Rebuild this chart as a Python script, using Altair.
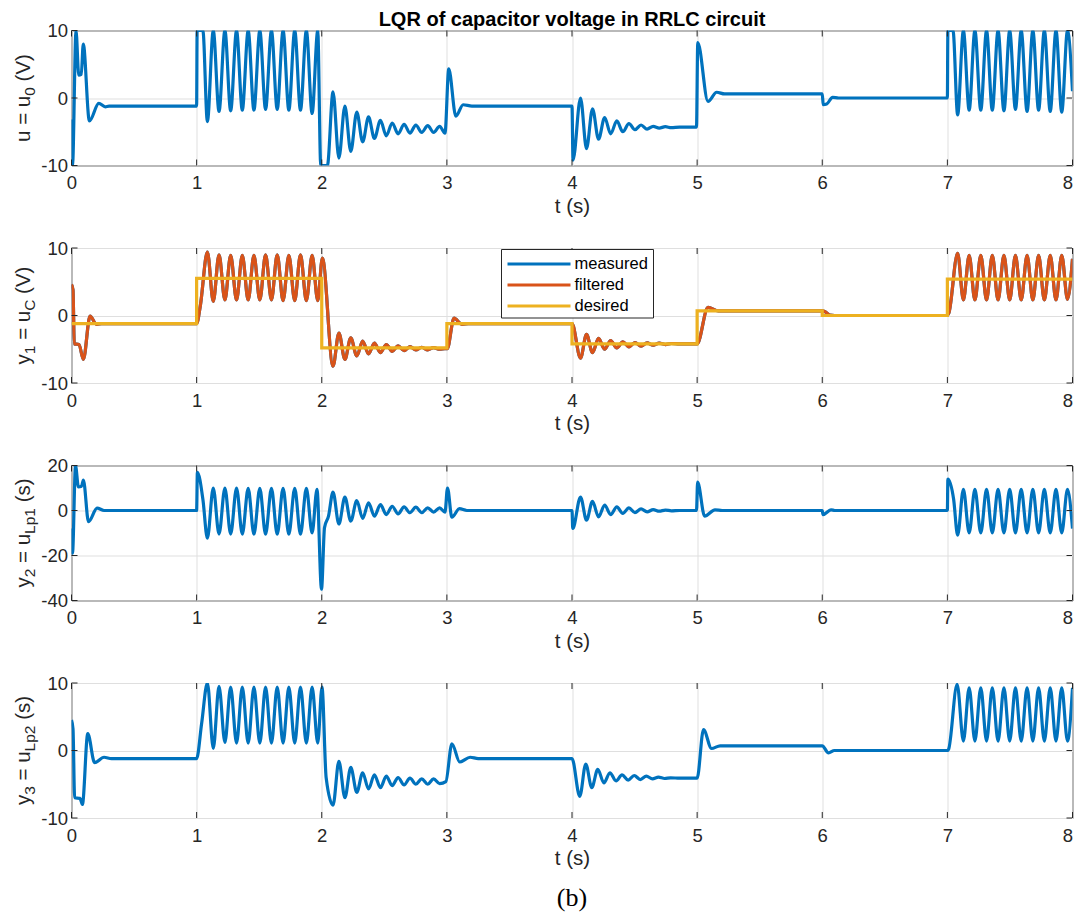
import altair as alt
import pandas as pd

FONT = "Liberation Sans"
SERIF = "Liberation Serif"
INK = "#262626"
BLUE = "#0072BD"
ORANGE = "#D95319"
YELLOW = "#EDB120"
GRID = "#DFDFDF"

W, H = 1001, 135
LW = 3.2

TITLE = "LQR of capacitor voltage in RRLC circuit"
CAPTION = "(b)"
X_TICKS = [0, 1, 2, 3, 4, 5, 6, 7, 8]
Y_TICKS_A = [-10, 0, 10]
Y_TICKS_B = [-40, -20, 0, 20]
SERIES = ["measured", "filtered", "desired"]
SERIES_COLORS = [BLUE, ORANGE, YELLOW]

# ---- panel 1 : u = u0 (V) ----
U_T = [0.000, 0.008, 0.036, 0.058, 0.078, 0.094, 0.143, 0.218, 0.270, 0.300, 1.000,
       1.004, 1.050,
       1.086, 1.133, 1.179, 1.226, 1.272, 1.319, 1.365, 1.412, 1.458, 1.505,
       1.551, 1.598, 1.644, 1.691, 1.737, 1.784, 1.830, 1.877, 1.923, 1.968, 1.992,
       2.045,
       2.090, 2.137, 2.185, 2.232, 2.280, 2.327, 2.374, 2.421, 2.469, 2.516,
       2.563, 2.610, 2.658, 2.705, 2.752, 2.799, 2.847, 2.894, 2.942, 2.985,
       3.015, 3.072, 3.130, 3.200, 4.000,
       4.008, 4.068, 4.116, 4.164, 4.212, 4.261, 4.309, 4.358, 4.406, 4.455,
       4.503, 4.552, 4.600, 4.649, 4.697, 4.746, 4.794, 4.860, 4.995,
       5.005, 5.087, 5.156, 5.220, 6.000, 6.008, 6.035, 6.083, 6.130, 7.000,
       7.004, 7.045,
       7.082, 7.128, 7.174, 7.220, 7.267, 7.313, 7.359, 7.405, 7.452, 7.498,
       7.544, 7.590, 7.637, 7.683, 7.729, 7.775, 7.822, 7.868, 7.914, 7.960, 8.000]
U_V = [-3.2, -10.0, 10.0, 3.4, 3.5, 8.0, -3.4, -0.8, -1.3, -1.2, -1.2,
       10.0, 10.0,
       -3.5, 10.0, -2.0, 10.0, -1.9, 10.0, -1.8, 10.0, -1.8, 10.0,
       -1.7, 10.0, -1.7, 10.0, -1.8, 10.0, -1.8, 10.0, -2.3, 10.0, -10.0,
       -10.0,
       0.9, -8.9, -1.2, -7.9, -2.1, -6.5, -2.8, -6.0, -3.3, -5.6,
       -3.7, -5.3, -3.9, -5.2, -4.0, -5.1, -4.1, -5.1, -4.2, -5.2,
       4.3, -2.7, -1.0, -1.2, -1.2,
       -9.2, 0.0, -7.5, -1.6, -6.1, -2.9, -5.3, -3.4, -5.0, -3.8,
       -4.7, -4.0, -4.6, -4.2, -4.45, -4.25, -4.4, -4.3, -4.3,
       8.2, -0.5, 0.85, 0.6, 0.6, -1.0, -0.9, 0.1, 0.0, 0.0,
       10.0, 10.0,
       -2.5, 10.0, -1.8, 10.0, -1.8, 10.0, -1.8, 10.0, -1.9, 10.0,
       -1.7, 10.0, -2.0, 10.0, -1.8, 10.0, -2.0, 10.0, -2.1, 10.0, 1.0]

# ---- panel 2 : y1 = uC (V), filtered ----
Y1F_T = [0.000, 0.012, 0.022, 0.060, 0.095, 0.148, 0.200, 0.240, 1.000, 1.030,
         1.086, 1.133, 1.179, 1.226, 1.272, 1.319, 1.365, 1.412, 1.458, 1.505,
         1.551, 1.598, 1.644, 1.691, 1.737, 1.784, 1.830, 1.877, 1.923, 1.968, 2.005,
         2.090, 2.137, 2.185, 2.232, 2.280, 2.327, 2.374, 2.421, 2.469, 2.516,
         2.563, 2.610, 2.658, 2.705, 2.752, 2.799, 2.847, 2.894, 2.942, 2.985, 3.003,
         3.057, 3.120, 3.170, 4.000,
         4.068, 4.116, 4.164, 4.212, 4.261, 4.309, 4.358, 4.406, 4.455, 4.503,
         4.552, 4.600, 4.649, 4.697, 4.746, 4.794, 4.860, 5.000,
         5.087, 5.170, 6.000, 6.020, 6.060, 6.100, 7.000, 7.012,
         7.082, 7.128, 7.174, 7.220, 7.267, 7.313, 7.359, 7.405, 7.452, 7.498,
         7.544, 7.590, 7.637, 7.683, 7.729, 7.775, 7.822, 7.868, 7.914, 7.960, 8.000]
Y1F_V = [4.6, 3.8, -4.2, -4.3, -6.5, -0.1, -1.3, -1.2, -1.2, 1.5,
         9.4, 2.1, 9.0, 2.3, 8.9, 2.3, 8.9, 2.3, 8.9, 2.3,
         9.0, 2.3, 9.0, 2.2, 8.9, 2.2, 9.0, 2.2, 8.9, 2.2, 8.5,
         -7.5, -2.6, -6.5, -3.3, -6.0, -3.8, -5.7, -4.1, -5.5, -4.3,
         -5.3, -4.5, -5.2, -4.6, -5.1, -4.7, -5.1, -4.75, -5.0, -4.9, -4.9,
         -0.4, -1.3, -1.2, -1.2,
         -6.3, -2.8, -5.5, -3.4, -5.0, -3.7, -4.8, -3.9, -4.65, -4.0,
         -4.55, -4.05, -4.4, -4.1, -4.3, -4.15, -4.2, -4.2,
         1.2, 0.7, 0.7, 0.6, 0.05, 0.0, 0.0, 0.4,
         9.2, 2.3, 8.9, 2.3, 8.9, 2.3, 8.9, 2.3, 8.9, 2.3,
         8.9, 2.3, 8.9, 2.3, 8.9, 2.3, 8.9, 2.3, 8.9, 2.4, 8.4]
# measured lies under the filtered curve in the picture
Y1M_T = Y1F_T
Y1M_V = Y1F_V
# desired set-point (steps)
Y1D_T = [0, 1, 2, 3, 4, 5, 6, 7, 8]
Y1D_V = [-1.2, 5.5, -4.8, -1.2, -4.2, 0.7, 0.0, 5.4, 5.4]

# ---- panel 3 : y2 = uLp1 ----
Y2_T = [0.000, 0.008, 0.032, 0.055, 0.080, 0.095, 0.136, 0.205, 0.260, 1.000, 1.006, 1.050,
        1.086, 1.133, 1.179, 1.226, 1.272, 1.319, 1.365, 1.412, 1.458, 1.505,
        1.551, 1.598, 1.644, 1.691, 1.737, 1.784, 1.830, 1.877, 1.923, 1.962,
        1.998, 2.022, 2.054,
        2.090, 2.137, 2.185, 2.232, 2.280, 2.327, 2.374, 2.421, 2.469, 2.516,
        2.563, 2.610, 2.658, 2.705, 2.752, 2.799, 2.847, 2.894, 2.942, 2.985,
        3.005, 3.040, 3.100, 3.160, 4.000,
        4.006, 4.068, 4.116, 4.164, 4.212, 4.261, 4.309, 4.358, 4.406, 4.455,
        4.503, 4.552, 4.600, 4.649, 4.697, 4.746, 4.794, 4.860, 4.995,
        5.004, 5.060, 5.142, 5.200, 6.000, 6.006, 6.070, 6.100, 7.000, 7.004, 7.050,
        7.082, 7.128, 7.174, 7.220, 7.267, 7.313, 7.359, 7.405, 7.452, 7.498,
        7.544, 7.590, 7.637, 7.683, 7.729, 7.775, 7.822, 7.868, 7.914, 7.960, 8.000]
Y2_V = [-8.0, -19.0, 20.0, 10.5, 10.8, 13.5, -5.0, 1.1, 0.0, 0.0, 17.0, 5.0,
        -12.3, 10.0, -10.5, 10.0, -10.5, 10.0, -10.5, 9.8, -10.5, 9.8,
        -10.5, 9.8, -10.5, 9.8, -10.5, 9.8, -10.5, 9.8, -10.0, 9.4,
        -35.0, -7.6, -2.5,
        8.2, -6.0, 5.9, -4.7, 4.4, -3.5, 3.4, -2.5, 2.6, -1.8,
        1.9, -1.5, 1.6, -1.0, 1.5, -1.0, 1.2, -0.7, 1.2, -0.7,
        10.0, -3.0, 0.8, 0.0, 0.0,
        -8.0, 6.0, -4.3, 4.1, -2.8, 2.4, -1.8, 1.6, -1.3, 1.2,
        -0.9, 0.7, -0.6, 0.4, -0.3, 0.2, -0.15, 0.0, 0.0,
        12.6, -2.5, 0.3, 0.0, 0.0, -1.8, 0.3, 0.0, 0.0, 14.0, 5.0,
        -11.0, 9.4, -10.0, 9.4, -10.0, 9.4, -10.0, 9.4, -10.0, 9.4,
        -10.0, 9.4, -10.0, 9.4, -10.0, 9.4, -10.0, 9.4, -10.0, 9.4, -8.0]

# ---- panel 4 : y3 = uLp2 ----
Y3_T = [0.000, 0.012, 0.025, 0.068, 0.087, 0.130, 0.185, 0.260, 0.320, 1.000, 1.040,
        1.086, 1.133, 1.179, 1.226, 1.272, 1.319, 1.365, 1.412, 1.458, 1.505,
        1.551, 1.598, 1.644, 1.691, 1.737, 1.784, 1.830, 1.877, 1.923, 1.968,
        2.002, 2.035,
        2.090, 2.137, 2.185, 2.232, 2.280, 2.327, 2.374, 2.421, 2.469, 2.516,
        2.563, 2.610, 2.658, 2.705, 2.752, 2.799, 2.847, 2.894, 2.942, 2.992,
        3.040, 3.103, 3.186, 3.250, 4.000,
        4.062, 4.110, 4.158, 4.206, 4.255, 4.303, 4.352, 4.400, 4.449, 4.497,
        4.546, 4.594, 4.643, 4.691, 4.740, 4.788, 4.860, 5.000,
        5.051, 5.115, 5.184, 6.000, 6.050, 6.097, 7.000, 7.010,
        7.078, 7.128, 7.174, 7.220, 7.267, 7.313, 7.359, 7.405, 7.452, 7.498,
        7.544, 7.590, 7.637, 7.683, 7.729, 7.775, 7.822, 7.868, 7.914, 7.960, 8.000]
Y3_V = [4.5, 3.2, -7.0, -7.1, -8.0, 2.5, -1.8, -1.0, -1.2, -1.2, 4.0,
        10.0, 0.3, 9.5, 1.2, 9.4, 1.1, 9.4, 1.1, 9.4, 1.1,
        9.4, 1.1, 9.4, 1.1, 9.4, 1.1, 9.4, 1.1, 9.4, 1.1,
        9.4, -4.0,
        -8.1, -1.6, -7.0, -2.5, -6.2, -3.3, -5.7, -3.6, -5.5, -3.8,
        -5.2, -4.0, -5.1, -4.1, -5.0, -4.2, -5.0, -4.2, -4.9, -4.6,
        1.0, -1.7, -1.0, -1.2, -1.2,
        -6.8, -2.0, -5.5, -2.8, -4.8, -3.3, -4.5, -3.6, -4.4, -3.7,
        -4.3, -3.8, -4.2, -3.95, -4.15, -4.05, -4.1, -4.1,
        3.1, 0.3, 0.7, 0.7, -0.35, 0.0, 0.0, 0.2,
        9.8, 1.4, 9.3, 1.4, 9.3, 1.4, 9.3, 1.4, 9.3, 1.4,
        9.3, 1.4, 9.3, 1.4, 9.3, 1.4, 9.3, 1.4, 9.3, 1.4, 9.3]

for a, b in [(U_T, U_V), (Y1F_T, Y1F_V), (Y1D_T, Y1D_V), (Y2_T, Y2_V), (Y3_T, Y3_V)]:
    assert len(a) == len(b), (len(a), len(b))

# approximate Arial/Liberation Sans advance widths (em) for the y-label pieces
AW = {" ": 0.278, "=": 0.584, "u": 0.556, "y": 0.5, "(": 0.333, ")": 0.333,
      "V": 0.667, "s": 0.5, "C": 0.722, "L": 0.556, "p": 0.556}
LAB_FS = 20.5
SUB_FS = 15.5


def tw(s, fs):
    return sum(AW.get(c, 0.556) for c in s) * fs


# last x label is right-aligned so that nothing sticks out past the right frame
X_LABEL_ALIGN = {"condition": {"test": "datum.value >= 8", "value": "right"}, "value": "center"}


def xaxis():
    return alt.Axis(values=X_TICKS, title="t (s)", format="d",
                    titleFont=FONT, titleFontSize=LAB_FS, titleFontWeight="normal",
                    titleColor=INK, labelFont=FONT, labelFontSize=18.5, labelColor=INK,
                    labelAlign=X_LABEL_ALIGN,
                    ticks=False, domain=False, grid=True, gridColor=GRID, gridWidth=1,
                    labelPadding=8, titlePadding=4, labelFlush=False)


def yaxis(vals):
    return alt.Axis(values=vals, title="", labelFont=FONT, labelFontSize=18.5,
                    labelColor=INK, ticks=False, domain=False, grid=True,
                    gridColor=GRID, gridWidth=1, labelPadding=4, labelFlush=False,
                    labelExpr="replace(datum.label, '\u2212', '-')")


def X():
    return alt.X("t:Q", scale=alt.Scale(domain=[0, 8], nice=False), axis=xaxis())


def Y(dom, vals):
    return alt.Y("v:Q", scale=alt.Scale(domain=dom, nice=False), axis=yaxis(vals))


def frame_ticks(dom, vals):
    xt = pd.DataFrame({"t": X_TICKS})
    yt = pd.DataFrame({"v": vals})
    L = 6
    mk = dict(color=INK, strokeWidth=1)
    return [
        alt.Chart(xt).mark_rule(**mk).encode(x=X(), y=alt.value(0), y2=alt.value(L)),
        alt.Chart(xt).mark_rule(**mk).encode(x=X(), y=alt.value(H), y2=alt.value(H - L)),
        alt.Chart(yt).mark_rule(**mk).encode(y=Y(dom, vals), x=alt.value(0), x2=alt.value(L)),
        alt.Chart(yt).mark_rule(**mk).encode(y=Y(dom, vals), x=alt.value(W - 0.5), x2=alt.value(W - L)),
    ]


ONE = pd.DataFrame({"k": [0]})


def ylabel(pieces):
    # pieces: (text, is_sub, leading_space)
    sp = AW[" "] * LAB_FS
    total = 0.0
    for txt, sub, lead in pieces:
        total += (sp if lead else 0) + tw(txt, SUB_FS if sub else LAB_FS)
    pos = H / 2 + total / 2
    base_x = -42
    layers = []
    for txt, sub, lead in pieces:
        if lead:
            pos -= sp
        fs = SUB_FS if sub else LAB_FS
        layers.append(
            alt.Chart(ONE).mark_text(text=txt, angle=270, align="left", baseline="alphabetic",
                                     font=FONT, fontSize=fs, color=INK)
            .encode(x=alt.value(base_x + (5 if sub else 0)), y=alt.value(pos))
        )
        pos -= tw(txt, fs)
    return layers


def simple_panel(ts, vs, dom, vals, pieces, extra=()):
    df = pd.DataFrame({"t": ts, "v": vs})
    ln = alt.Chart(df).mark_line(color=BLUE, strokeWidth=LW, interpolate="monotone",
                                 clip=True).encode(x=X(), y=Y(dom, vals))
    return alt.layer(ln, *frame_ticks(dom, vals), *ylabel(pieces), *extra).properties(
        width=W, height=H)


title_mark = alt.Chart(ONE).mark_text(text=TITLE, font=FONT, fontSize=20, fontWeight="bold",
                                      color="black", align="center", baseline="middle").encode(
    x=alt.value(W / 2), y=alt.value(-11))

caption_mark = alt.Chart(ONE).mark_text(text=CAPTION, font=SERIF, fontSize=26,
                                        color="black", align="center",
                                        baseline="alphabetic").encode(
    x=alt.value(W / 2), y=alt.value(H + 88))

p1 = simple_panel(U_T, U_V, [-10, 10], Y_TICKS_A,
                  [("u = u", False, False), ("0", True, False), ("(V)", False, True)],
                  extra=[title_mark])

# legend box (drawn inside panel 2, top-middle)
LEG_X0, LEG_X1, LEG_Y0, LEG_Y1 = 430, 582, 1.5, 70
LEG_ROWS = [16, 37, 58]
legend_layers = [alt.Chart(ONE).mark_rect(fill="white", stroke=INK, strokeWidth=1).encode(
    x=alt.value(LEG_X0), x2=alt.value(LEG_X1), y=alt.value(LEG_Y0), y2=alt.value(LEG_Y1))]
for name, c, ry in zip(SERIES, SERIES_COLORS, LEG_ROWS):
    legend_layers.append(alt.Chart(ONE).mark_rule(color=c, strokeWidth=3).encode(
        x=alt.value(LEG_X0 + 6), x2=alt.value(LEG_X0 + 69), y=alt.value(ry)))
    legend_layers.append(alt.Chart(ONE).mark_text(text=name, font=FONT, fontSize=16.5,
                                                  color="black", align="left",
                                                  baseline="middle").encode(
        x=alt.value(LEG_X0 + 73), y=alt.value(ry)))

dm = pd.DataFrame({"t": Y1M_T, "v": Y1M_V})
dfl = pd.DataFrame({"t": Y1F_T, "v": Y1F_V})
dd = pd.DataFrame({"t": Y1D_T, "v": Y1D_V})
l_m = alt.Chart(dm).mark_line(color=BLUE, strokeWidth=LW, interpolate="monotone",
                              clip=True).encode(x=X(), y=Y([-10, 10], Y_TICKS_A))
l_f = alt.Chart(dfl).mark_line(color=ORANGE, strokeWidth=LW, interpolate="monotone",
                               clip=True).encode(x=X(), y=Y([-10, 10], Y_TICKS_A))
l_d = alt.Chart(dd).mark_line(color=YELLOW, strokeWidth=LW, interpolate="step-after",
                              clip=True).encode(x=X(), y=Y([-10, 10], Y_TICKS_A))
p2 = alt.layer(l_m, l_f, l_d, *frame_ticks([-10, 10], Y_TICKS_A),
               *ylabel([("y", False, False), ("1", True, False), ("= u", False, True),
                        ("C", True, False), ("(V)", False, True)]),
               *legend_layers).properties(width=W, height=H)

p3 = simple_panel(Y2_T, Y2_V, [-40, 20], Y_TICKS_B,
                  [("y", False, False), ("2", True, False), ("= u", False, True),
                   ("Lp1", True, False), ("(s)", False, True)])
p4 = simple_panel(Y3_T, Y3_V, [-10, 10], Y_TICKS_A,
                  [("y", False, False), ("3", True, False), ("= u", False, True),
                   ("Lp2", True, False), ("(s)", False, True)],
                  extra=[caption_mark])

chart = (alt.vconcat(p1, p2, p3, p4, spacing=82.5, bounds="flush")
         .properties(padding={"left": 4.5, "top": 0.5, "right": 0, "bottom": 0})
         .configure_view(stroke=INK, strokeWidth=1))

chart.save("out.html", embed_options={"renderer": "svg", "actions": False})
